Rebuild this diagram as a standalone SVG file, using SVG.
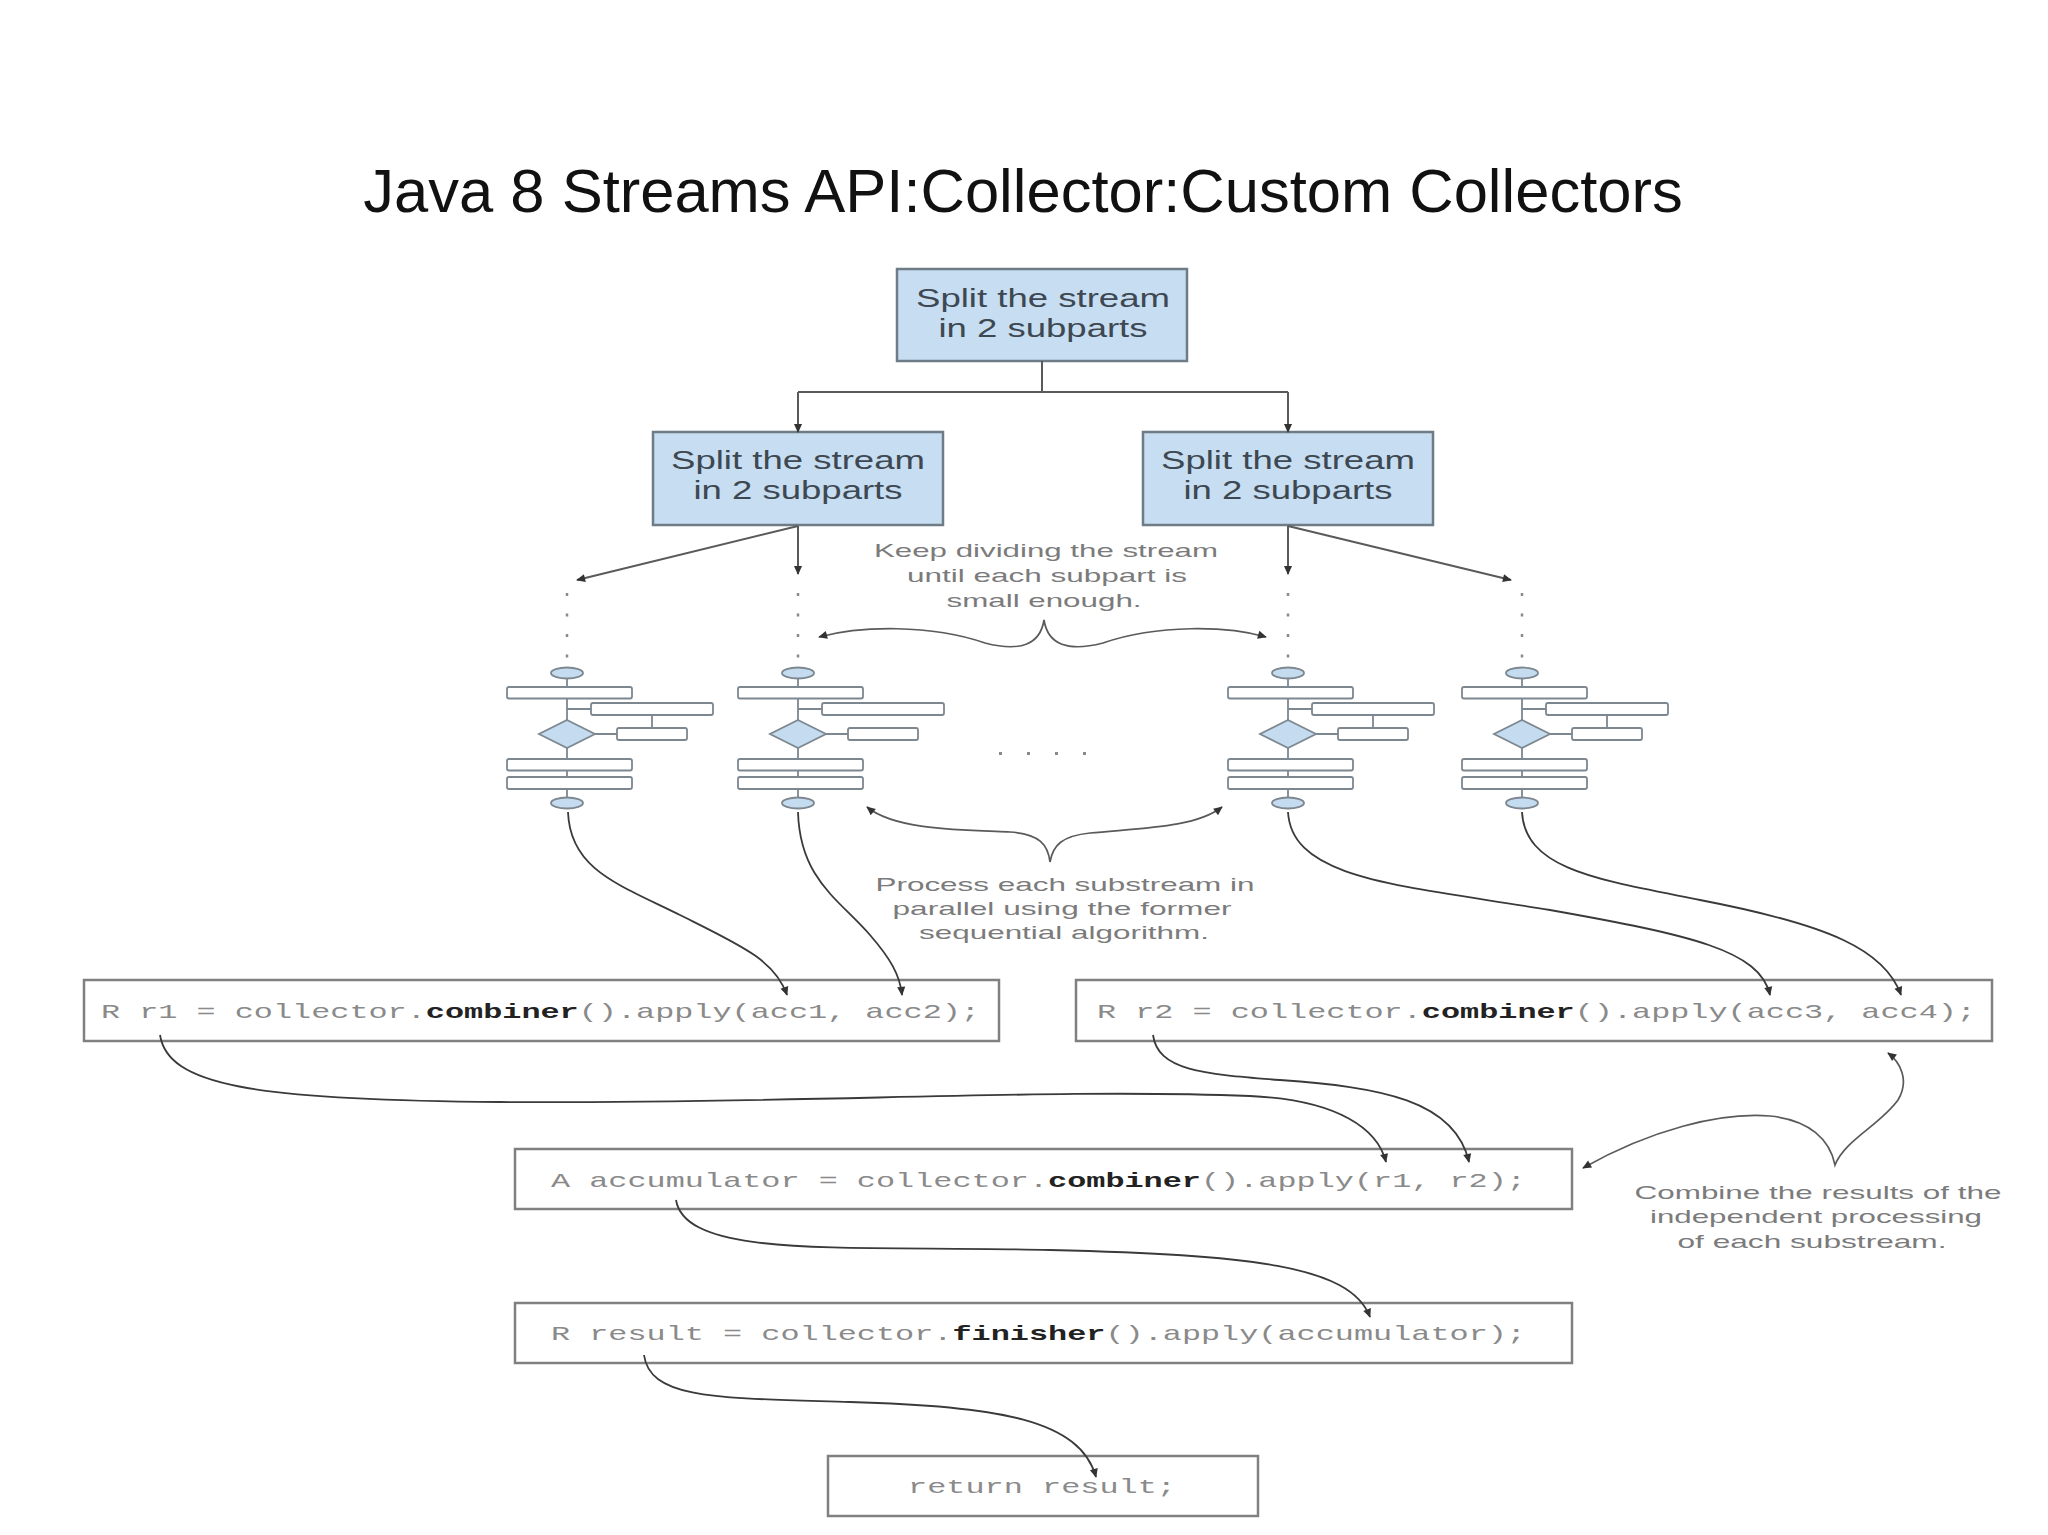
<svg xmlns="http://www.w3.org/2000/svg" width="2048" height="1535" viewBox="0 0 2048 1535">
  <style>
    .title { font-family: "Liberation Sans", Arial, sans-serif; font-size: 61.5px; fill: #111; }
    .bx { fill: #c7ddf1; stroke: #6e7c88; stroke-width: 2.5; }
    .bxt { font-family: "Liberation Sans", Arial, sans-serif; font-size: 26px; fill: #3d4852; text-anchor: middle; }
    .note { font-family: "Liberation Sans", Arial, sans-serif; font-size: 19px; fill: #7b7b7b; text-anchor: middle; }
    .code { fill: #ffffff; stroke: #808080; stroke-width: 2.5; }
    .ct { font-family: "Liberation Mono", "Courier New", monospace; font-size: 21px; fill: #8a8a8a; }
    .cb { font-weight: bold; fill: #222; }
    .fl { fill: none; stroke: #7d8790; stroke-width: 1.8; }
    .fr { fill: #ffffff; stroke: #7d8790; stroke-width: 1.8; }
    .fb { fill: #c5dcf0; stroke: #7d8790; stroke-width: 1.8; }
    .tree { fill: none; stroke: #5a5a5a; stroke-width: 2; }
    .dots { fill: none; stroke: #8a8a8a; stroke-width: 2.5; stroke-dasharray: 3 17.5; }
    .arr { fill: none; stroke: #3a3a3a; stroke-width: 1.8; }
    .brace { fill: none; stroke: #5a5a5a; stroke-width: 1.7; }
  </style>
  <defs>
    <marker id="ah" viewBox="0 0 10 10" refX="9" refY="5" markerWidth="12" markerHeight="9" markerUnits="userSpaceOnUse" orient="auto-start-reverse">
      <path d="M0,0.5 L10,5 L0,9.5 z" fill="#333"/>
    </marker>
  </defs>

  <rect width="2048" height="1535" fill="#ffffff"/>

  <text class="title" x="1023" y="212" text-anchor="middle">Java 8 Streams API:Collector:Custom Collectors</text>

  <!-- split boxes -->
  <g id="split-top">
    <rect class="bx" x="897" y="269" width="290" height="92"/>
    <text class="bxt" x="1043" y="307" textLength="254" lengthAdjust="spacingAndGlyphs">Split the stream</text>
    <text class="bxt" x="1043" y="337" textLength="209" lengthAdjust="spacingAndGlyphs">in 2 subparts</text>
  </g>
  <g id="split-left">
    <rect class="bx" x="653" y="432" width="290" height="93"/>
    <text class="bxt" x="798" y="469" textLength="254" lengthAdjust="spacingAndGlyphs">Split the stream</text>
    <text class="bxt" x="798" y="499" textLength="209" lengthAdjust="spacingAndGlyphs">in 2 subparts</text>
  </g>
  <g id="split-right">
    <rect class="bx" x="1143" y="432" width="290" height="93"/>
    <text class="bxt" x="1288" y="469" textLength="254" lengthAdjust="spacingAndGlyphs">Split the stream</text>
    <text class="bxt" x="1288" y="499" textLength="209" lengthAdjust="spacingAndGlyphs">in 2 subparts</text>
  </g>

  <!-- flowcharts -->
  <g id="flow-1" transform="translate(567,0)">
    <ellipse class="fb" cx="0" cy="673" rx="16" ry="5.5"/>
    <path class="fl" d="M0,678.5 V687 M0,698.5 V720 M0,709 H24 M28,734 H50 M85,715 V728 M0,748 V759 M0,770.5 V777 M0,789 V797.5"/>
    <rect class="fr" x="-60" y="687" width="125" height="11.5" rx="2"/>
    <rect class="fr" x="24" y="703" width="122" height="12" rx="2"/>
    <polygon class="fb" points="0,720 28,734 0,748 -28,734"/>
    <rect class="fr" x="50" y="728" width="70" height="12" rx="2"/>
    <rect class="fr" x="-60" y="759" width="125" height="11.5" rx="2"/>
    <rect class="fr" x="-60" y="777" width="125" height="12" rx="2"/>
    <ellipse class="fb" cx="0" cy="803" rx="16" ry="5.5"/>
  </g>
  <g id="flow-2" transform="translate(798,0)">
    <ellipse class="fb" cx="0" cy="673" rx="16" ry="5.5"/>
    <path class="fl" d="M0,678.5 V687 M0,698.5 V720 M0,709 H24 M28,734 H50 M0,748 V759 M0,770.5 V777 M0,789 V797.5"/>
    <rect class="fr" x="-60" y="687" width="125" height="11.5" rx="2"/>
    <rect class="fr" x="24" y="703" width="122" height="12" rx="2"/>
    <polygon class="fb" points="0,720 28,734 0,748 -28,734"/>
    <rect class="fr" x="50" y="728" width="70" height="12" rx="2"/>
    <rect class="fr" x="-60" y="759" width="125" height="11.5" rx="2"/>
    <rect class="fr" x="-60" y="777" width="125" height="12" rx="2"/>
    <ellipse class="fb" cx="0" cy="803" rx="16" ry="5.5"/>
  </g>
  <g id="flow-3" transform="translate(1288,0)">
    <ellipse class="fb" cx="0" cy="673" rx="16" ry="5.5"/>
    <path class="fl" d="M0,678.5 V687 M0,698.5 V720 M0,709 H24 M28,734 H50 M85,715 V728 M0,748 V759 M0,770.5 V777 M0,789 V797.5"/>
    <rect class="fr" x="-60" y="687" width="125" height="11.5" rx="2"/>
    <rect class="fr" x="24" y="703" width="122" height="12" rx="2"/>
    <polygon class="fb" points="0,720 28,734 0,748 -28,734"/>
    <rect class="fr" x="50" y="728" width="70" height="12" rx="2"/>
    <rect class="fr" x="-60" y="759" width="125" height="11.5" rx="2"/>
    <rect class="fr" x="-60" y="777" width="125" height="12" rx="2"/>
    <ellipse class="fb" cx="0" cy="803" rx="16" ry="5.5"/>
  </g>
  <g id="flow-4" transform="translate(1522,0)">
    <ellipse class="fb" cx="0" cy="673" rx="16" ry="5.5"/>
    <path class="fl" d="M0,678.5 V687 M0,698.5 V720 M0,709 H24 M28,734 H50 M85,715 V728 M0,748 V759 M0,770.5 V777 M0,789 V797.5"/>
    <rect class="fr" x="-60" y="687" width="125" height="11.5" rx="2"/>
    <rect class="fr" x="24" y="703" width="122" height="12" rx="2"/>
    <polygon class="fb" points="0,720 28,734 0,748 -28,734"/>
    <rect class="fr" x="50" y="728" width="70" height="12" rx="2"/>
    <rect class="fr" x="-60" y="759" width="125" height="11.5" rx="2"/>
    <rect class="fr" x="-60" y="777" width="125" height="12" rx="2"/>
    <ellipse class="fb" cx="0" cy="803" rx="16" ry="5.5"/>
  </g>

  <g id="ellipsis-dots" fill="#8a8a8a">
    <rect x="999" y="752" width="3" height="3"/>
    <rect x="1027" y="752" width="3" height="3"/>
    <rect x="1055" y="752" width="3" height="3"/>
    <rect x="1083" y="752" width="3" height="3"/>
  </g>

  <!-- annotations -->
  <g id="note-divide">
    <text class="note" x="1046" y="557" textLength="344" lengthAdjust="spacingAndGlyphs">Keep dividing the stream</text>
    <text class="note" x="1047" y="582" textLength="280" lengthAdjust="spacingAndGlyphs">until each subpart is</text>
    <text class="note" x="1044" y="607" textLength="195" lengthAdjust="spacingAndGlyphs">small enough.</text>
  </g>
  <g id="note-process">
    <text class="note" x="1065" y="891" textLength="379" lengthAdjust="spacingAndGlyphs">Process each substream in</text>
    <text class="note" x="1062" y="915" textLength="339" lengthAdjust="spacingAndGlyphs">parallel using the former</text>
    <text class="note" x="1064" y="939" textLength="290" lengthAdjust="spacingAndGlyphs">sequential algorithm.</text>
  </g>
  <g id="note-combine">
    <text class="note" x="1818" y="1199" textLength="367" lengthAdjust="spacingAndGlyphs">Combine the results of the</text>
    <text class="note" x="1816" y="1223" textLength="332" lengthAdjust="spacingAndGlyphs">independent processing</text>
    <text class="note" x="1812" y="1248" textLength="269" lengthAdjust="spacingAndGlyphs">of each substream.</text>
  </g>

  <!-- code boxes -->
  <g id="code-r1">
    <rect class="code" x="84" y="980" width="915" height="61"/>
    <text class="ct" x="101" y="1018" textLength="879" lengthAdjust="spacingAndGlyphs">R r1 = collector.<tspan class="cb">combiner</tspan>().apply(acc1, acc2);</text>
  </g>
  <g id="code-r2">
    <rect class="code" x="1076" y="980" width="916" height="61"/>
    <text class="ct" x="1097" y="1018" textLength="879" lengthAdjust="spacingAndGlyphs">R r2 = collector.<tspan class="cb">combiner</tspan>().apply(acc3, acc4);</text>
  </g>
  <g id="code-accumulator">
    <rect class="code" x="515" y="1149" width="1057" height="60"/>
    <text class="ct" x="551" y="1187" textLength="975" lengthAdjust="spacingAndGlyphs">A accumulator = collector.<tspan class="cb">combiner</tspan>().apply(r1, r2);</text>
  </g>
  <g id="code-result">
    <rect class="code" x="515" y="1303" width="1057" height="60"/>
    <text class="ct" x="551" y="1340" textLength="975" lengthAdjust="spacingAndGlyphs">R result = collector.<tspan class="cb">finisher</tspan>().apply(accumulator);</text>
  </g>
  <g id="code-return">
    <rect class="code" x="828" y="1456" width="430" height="60"/>
    <text class="ct" x="908" y="1493" textLength="268" lengthAdjust="spacingAndGlyphs">return result;</text>
  </g>

  <!-- connectors -->
  <g id="connectors">
    <path class="tree" d="M1042,361 V392 M798,392 H1288"/>
    <path class="tree" d="M798,392 V432" marker-end="url(#ah)"/>
    <path class="tree" d="M1288,392 V432" marker-end="url(#ah)"/>
    <path class="tree" d="M798,526 V574" marker-end="url(#ah)"/>
    <path class="tree" d="M798,526 L577,580" marker-end="url(#ah)"/>
    <path class="tree" d="M1288,526 V574" marker-end="url(#ah)"/>
    <path class="tree" d="M1288,526 L1511,580" marker-end="url(#ah)"/>

    <path class="dots" d="M567,593 V658 M798,593 V658 M1288,593 V658 M1522,593 V658"/>

    <path class="arr" d="M568,812 C570,870 620,885 680,915 C740,945 775,960 787,995" marker-end="url(#ah)"/>
    <path class="arr" d="M798,812 C800,880 840,900 870,935 C890,958 900,975 902,995" marker-end="url(#ah)"/>
    <path class="arr" d="M1288,812 C1292,880 1400,885 1550,910 C1690,935 1760,950 1770,995" marker-end="url(#ah)"/>
    <path class="arr" d="M1522,812 C1525,870 1600,880 1700,900 C1830,925 1885,950 1901,995" marker-end="url(#ah)"/>

    <path class="arr" d="M160,1035 C168,1085 250,1100 500,1102 C800,1104 1050,1088 1250,1096 C1340,1100 1378,1130 1386,1162" marker-end="url(#ah)"/>
    <path class="arr" d="M1153,1035 C1158,1070 1200,1074 1280,1080 C1380,1087 1455,1100 1469,1162" marker-end="url(#ah)"/>
    <path class="arr" d="M676,1200 C686,1260 850,1245 1050,1250 C1250,1255 1350,1265 1370,1317" marker-end="url(#ah)"/>
    <path class="arr" d="M644,1355 C650,1400 720,1398 850,1402 C1000,1406 1080,1420 1096,1477" marker-end="url(#ah)"/>

    <path class="brace" d="M819,637 C860,626 930,624 985,643 C1020,652 1040,645 1044,620 C1048,645 1068,652 1103,643 C1158,624 1228,626 1266,637" marker-start="url(#ah)" marker-end="url(#ah)"/>
    <path class="brace" d="M867,807 C895,830 960,830 1010,832 C1040,834 1048,845 1050,862 C1053,845 1062,836 1090,833 C1140,828 1195,828 1222,807" marker-start="url(#ah)" marker-end="url(#ah)"/>
    <path class="brace" d="M1583,1168 C1650,1130 1720,1112 1770,1116 C1810,1120 1830,1140 1835,1165 C1845,1140 1880,1125 1898,1100 C1910,1080 1900,1062 1888,1053" marker-start="url(#ah)" marker-end="url(#ah)"/>
  </g>
</svg>
